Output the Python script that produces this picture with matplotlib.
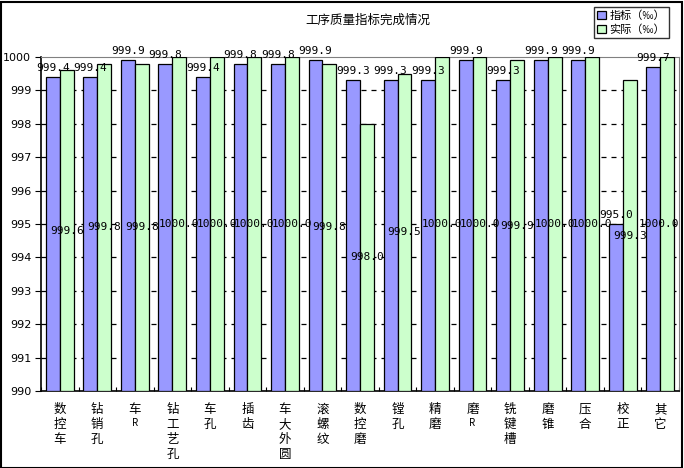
import numpy as np
import matplotlib
matplotlib.use('Agg')
from matplotlib import pyplot as plt
from matplotlib.patches import Rectangle

plt.rcParams['font.family'] = ['Noto Sans CJK SC', 'DejaVu Sans']

categories = ['数控车', '钻销孔', '车R', '钻工艺孔', '车孔', '插齿', '车大外圆', '滚螺纹',
              '数控磨', '镗孔', '精磨', '磨R', '铣键槽', '磨锥', '压合', '校正', '其它']
target = [999.4, 999.4, 999.9, 999.8, 999.4, 999.8, 999.8, 999.9,
          999.3, 999.3, 999.3, 999.9, 999.3, 999.9, 999.9, 995.0, 999.7]
actual = [999.6, 999.8, 999.8, 1000.0, 1000.0, 1000.0, 1000.0, 999.8,
          998.0, 999.5, 1000.0, 1000.0, 999.9, 1000.0, 1000.0, 999.3, 1000.0]
series_names = ['指标（‰）', '实际（‰）']
y_ticks = [990, 991, 992, 993, 994, 995, 996, 997, 998, 999, 1000]

base = 990
x = np.arange(len(categories))
w = 0.37

fig = plt.figure(figsize=(6.84, 4.68), dpi=100)
ax = fig.add_axes([41 / 684, 1 - 391 / 468, 638 / 684, 334 / 468])

b1 = ax.bar(x - w / 2, np.array(target) - base, w, bottom=base, color='#9999FF',
            edgecolor='black', linewidth=0.9, label=series_names[0], zorder=3)
b2 = ax.bar(x + w / 2, np.array(actual) - base, w, bottom=base, color='#CCFFCC',
            edgecolor='black', linewidth=0.9, label=series_names[1], zorder=3)

num_font = dict(family='DejaVu Sans Mono', fontsize=8)
ax.bar_label(b1, labels=['%.1f' % v for v in target], padding=3, zorder=5, **num_font)
lbls = ax.bar_label(b2, labels=['%.1f' % v for v in actual], label_type='center', zorder=5, **num_font)
# keep the last label inside the frame, like Excel does
lbls[-1].xyann = (-6, 0)

ax.set_xlim(-0.5, len(categories) - 0.5)
ax.set_ylim(990, 1000)
ax.set_yticks(y_ticks)
ax.set_yticklabels([str(t) for t in y_ticks], family='DejaVu Sans', fontsize=8)
for t in y_ticks[1:-1]:
    ax.axhline(t, color='black', linestyle=(0, (4, 4)), linewidth=0.9, zorder=1)

ax.set_xticks(np.arange(len(categories) + 1) - 0.5)
ax.set_xticklabels([])
ax.tick_params(axis='x', direction='in', length=3, color='black')
ax.tick_params(axis='y', direction='out', length=4, color='black', pad=3)

# vertical category labels, one character per row
for i, c in enumerate(categories):
    for k, ch in enumerate(c):
        fs = 7 if ch == 'R' else 9
        ax.annotate(ch, xy=(i, 0), xycoords=('data', 'axes fraction'),
                    xytext=(0, -12 - 15 * k), textcoords='offset pixels',
                    ha='center', va='top', fontsize=fs)

ax.spines['left'].set_color('black')
ax.spines['bottom'].set_color('black')
ax.spines['left'].set_linewidth(1.2)
ax.spines['bottom'].set_linewidth(1.2)
ax.spines['top'].set_color('#808080')
ax.spines['right'].set_color('#808080')

fig.text(368 / 684, 1 - 20 / 468, '工序质量指标完成情况', ha='center', va='center', fontsize=9)

leg = fig.legend(handles=[b1, b2], loc='upper left', bbox_to_anchor=(594 / 684, 1 - 7 / 468),
                 fontsize=8, frameon=True, fancybox=False, edgecolor='black',
                 handlelength=0.8, handleheight=0.8, handletextpad=0.3,
                 borderpad=0.3, labelspacing=0.3, borderaxespad=0)
leg.get_frame().set_linewidth(1.0)

fig.patches.append(Rectangle((0.5 / 684, 0.5 / 468), 681 / 684, 466 / 468, transform=fig.transFigure,
                             fill=False, edgecolor='black', linewidth=1.5))

plt.savefig('out.png', dpi=100)
